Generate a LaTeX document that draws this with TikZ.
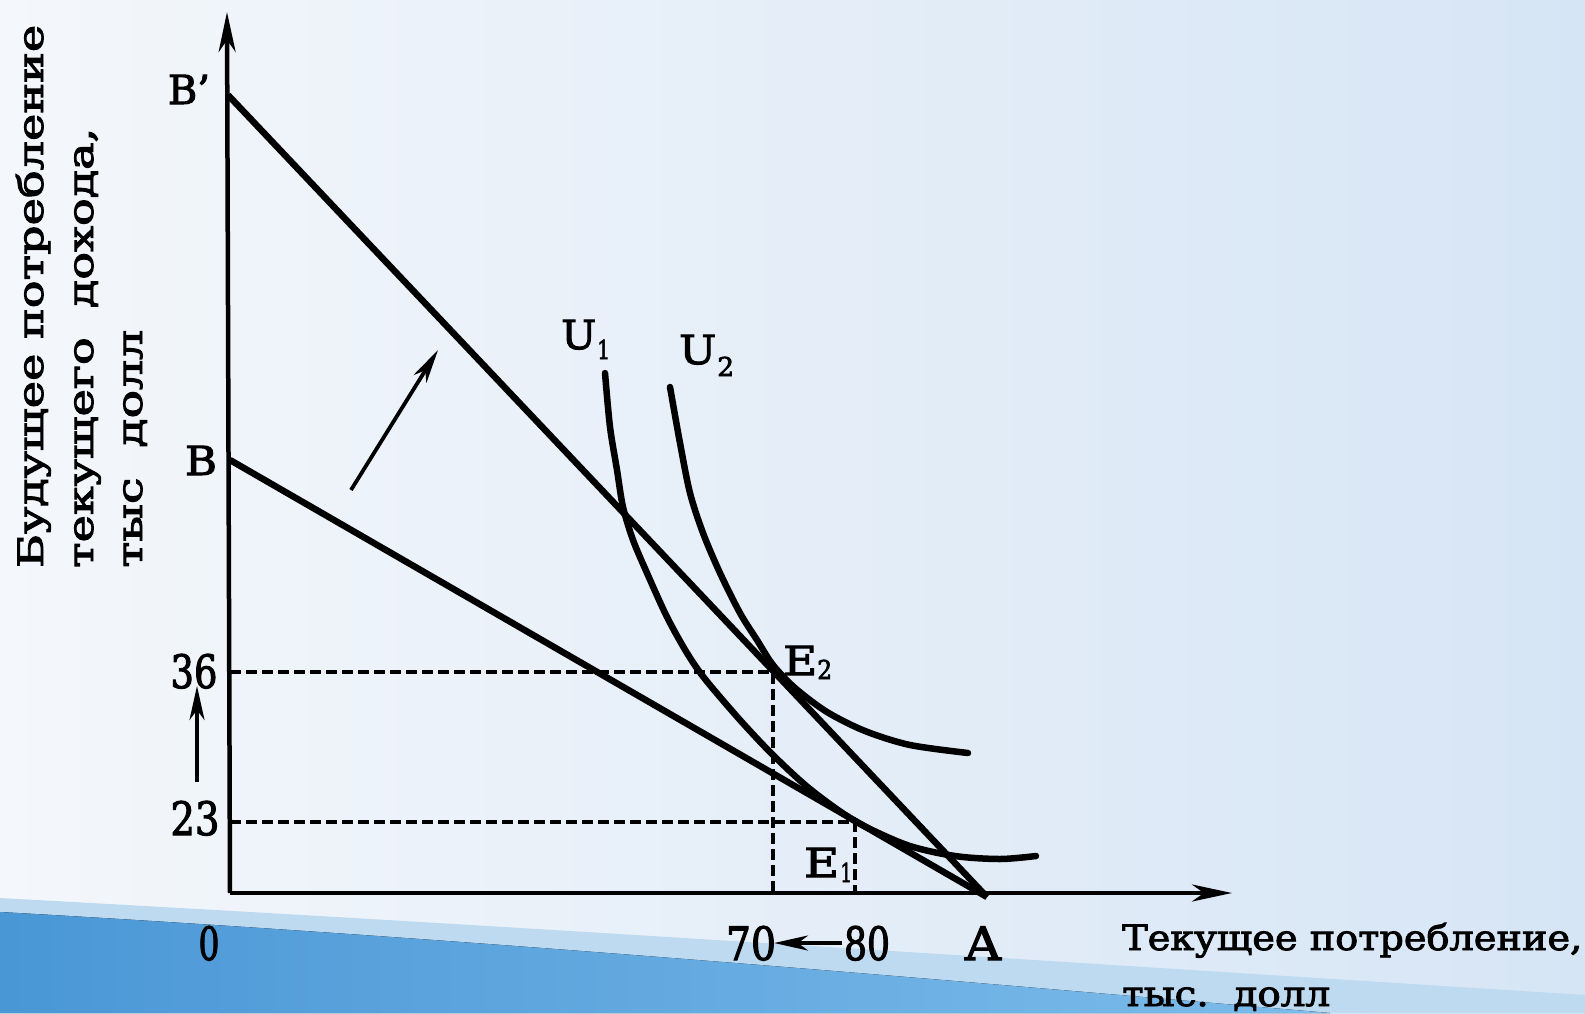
\documentclass[tikz,border=0pt]{standalone}
\usepackage{fontspec}
\setmainfont{DejaVu Serif}[FakeBold=2.5]
\usetikzlibrary{arrows.meta}
\newcommand\hfit[2]{\resizebox{#1}{\height}{#2}}
\newcommand\subsz{\fontsize{26}{26}\selectfont}
\definecolor{bgL}{RGB}{244,247,251}
\definecolor{bgR}{RGB}{214,229,245}
\definecolor{paleB}{RGB}{190,218,241}
\definecolor{darkL}{RGB}{74,151,214}
\definecolor{darkR}{RGB}{125,188,234}
\begin{document}
\begin{tikzpicture}[x=1pt,y=-1pt,
  axis/.style={line width=4.5pt,-{Stealth[length=40pt,width=17pt,inset=12pt]}},
  bline/.style={line width=6.5pt},
  icurve/.style={line width=6.5pt,line cap=round},
  dsh/.style={line width=3.2pt,dash pattern=on 11pt off 5pt},
  smallarr/.style={line width=3.8pt,-{Stealth[length=34pt,width=15pt,inset=10pt]}},
  lbl/.style={inner sep=0pt,font=\fontsize{40}{40}\selectfont},
  num/.style={inner sep=0pt,font=\fontsize{46}{46}\selectfont},
  txt/.style={inner sep=0pt,font=\fontsize{35}{35}\selectfont}]
\useasboundingbox (0,0) rectangle (1585,1013);
% background
\fill[left color=bgL,right color=bgR] (0,0) rectangle (1585,1013);
\fill[paleB] (0,898) .. controls (500,925) and (1000,958) .. (1585,995) -- (1585,1013) -- (0,1013) -- cycle;
\fill[left color=darkL,right color=darkR] (0,912) .. controls (500,940) and (1000,985) .. (1330,1013) -- (0,1013) -- cycle;
% coordinates
\coordinate (O) at (230,893);
\coordinate (Ytop) at (227,12);
\coordinate (Xend) at (1232,893);
\coordinate (Bp) at (228,95);
\coordinate (B) at (230,460);
\coordinate (A) at (987,897);
\coordinate (E2) at (773,672);
\coordinate (E1) at (855,822);
\coordinate (Y36) at (230,672);
\coordinate (Y23) at (230,822);
\coordinate (X70) at (773,893);
\coordinate (X80) at (855,893);
% dashed guides
\draw[dsh] (Y36) -- (E2) -- (X70);
\draw[dsh] (Y23) -- (E1) -- (X80);
% axes
\draw[axis] (O) -- (Ytop);
\draw[axis] (O) -- (Xend);
% budget lines
\draw[bline] (Bp) -- (A);
\draw[bline] (B) -- (A);
% indifference curves
\draw[icurve] plot[smooth,tension=0.5] coordinates {(605,373) (610,427) (617,470) (623,507) (633,540) (647,573) (667,617) (687,653) (705,679) (740,720) (773,755) (810,789) (855,821) (907,845) (955,856) (1000,859) (1036,856)};
\draw[icurve] plot[smooth,tension=0.5] coordinates {(670,387) (680,443) (690,493) (703,533) (720,573) (740,613) (757,640) (773,665) (795,688) (827,712) (865,731) (910,745) (968,753)};
% arrows
\coordinate (Ma) at (351,490);
\coordinate (Mb) at (438,350);
\draw[smallarr] (Ma) -- (Mb);
\coordinate (S23) at (197,782);
\coordinate (S36) at (197,686);
\draw[smallarr] (S23) -- (S36);
\coordinate (S80) at (842,943);
\coordinate (S70) at (774,943);
\draw[smallarr] (S80) -- (S70);
% labels
\node[lbl,anchor=base] (lBp) at (189,104) {\hfit{42pt}{B'}};
\node[lbl,anchor=base] (lB) at (201,475) {\hfit{32pt}{B}};
\node[num,anchor=base] (l36) at (194,688) {\hfit{47pt}{36}};
\node[num,anchor=base] (l23) at (195,835) {\hfit{49pt}{23}};
\node[num,anchor=base] (l0) at (209,960) {\hfit{21pt}{0}};
\node[num,anchor=base] (l70) at (751,960) {\hfit{50pt}{70}};
\node[num,anchor=base] (l80) at (867,960) {\hfit{46pt}{80}};
\node[num,anchor=base] (lA) at (983,960) {\hfit{36pt}{A}};
\node[lbl,anchor=base west] (lU1) at (561,349) {\hfit{35pt}{U}\kern1pt\raisebox{-10pt}{\subsz\hfit{13pt}{1}}};
\node[lbl,anchor=base west] (lU2) at (679,364) {\hfit{37pt}{U}\kern1pt\raisebox{-12pt}{\subsz\hfit{17pt}{2}}};
\node[lbl,anchor=base west] (lE2) at (783,675) {\hfit{34pt}{E}\raisebox{-4pt}{\subsz\hfit{15pt}{2}}};
\node[lbl,anchor=base west] (lE1) at (804,877) {\hfit{35pt}{E}\kern1pt\raisebox{-5pt}{\subsz\hfit{12pt}{1}}};
\node[txt,anchor=base west] (xl1) at (1122,950) {\hfit{460pt}{Текущее потребление,}};
\node[txt,anchor=base west] (xl2) at (1122,1006) {\hfit{208pt}{тыс.\ \ долл}};
\node[txt,anchor=base west,rotate=90] (yl1) at (43,568) {\hfit{543pt}{Будущее потребление}};
\node[txt,anchor=base west,rotate=90] (yl2) at (93,568) {\hfit{440pt}{текущего\ \ дохода,}};
\node[txt,anchor=base west,rotate=90] (yl3) at (142,568) {\hfit{238pt}{тыс\ \ долл}};
\end{tikzpicture}
\end{document}
